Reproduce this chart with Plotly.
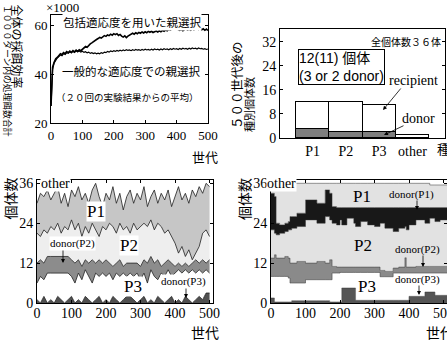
import plotly.graph_objects as go

W, H = 447, 342
def px(x): return x / W
def py(y): return 1 - y / H

SERIF = "Liberation Serif, Times New Roman, serif"
JP = "Noto Sans CJK JP"
SANS = "Liberation Sans, Noto Sans CJK JP, sans-serif"

# ---------------- data: top-left (foraging efficiency, x1000) ----------------
gen_tl = list(range(0, 501, 5))
fit_inclusive = [
    27, 43, 45, 46.5, 47, 47.8, 48.5, 48.2, 49, 48.6,
    49.4, 49, 49.6, 49.1, 49.8, 49.3, 50, 49.5, 50.2, 49.8,
    50.5, 50.9, 51.5, 51.2, 52, 52.6, 53, 53.6, 54, 54.4,
    54.8, 55.3, 55, 55.6, 56, 55.7, 56.3, 56, 56.6, 56.2,
    56.8, 56.4, 56.8, 56.1, 56.5, 55.8, 55.4, 55.9, 55.2, 55.8,
    56.3, 56.8, 57, 56.6, 57.2, 56.8, 57.3, 57, 57.5, 57.1,
    57.6, 57.2, 57.8, 57.4, 57.8, 57.3, 57.7, 57.9, 57.5, 58,
    57.6, 58.2, 57.8, 58.3, 58, 58.6, 58.3, 58.9, 59.2, 58.7,
    59, 58.5, 58.2, 58.6, 58, 58.5, 58.8, 58.3, 58.7, 58.2,
    58.9, 58.4, 58.8, 59.1, 58.5, 58.9, 58.4, 58.8, 58.2, 58.7,
    58.1]
fit_normal = [
    27, 42, 44.8, 46, 46.8, 47.4, 48, 47.7, 48.6, 48.2,
    49, 48.7, 49.3, 48.9, 49.5, 49.1, 49.8, 49.3, 49.7, 49.2,
    49.6, 49.1, 49.4, 48.9, 49.2, 48.7, 49, 48.6, 48.9, 48.5,
    48.8, 48.5, 49, 48.7, 49.2, 49, 49.5, 49.2, 49.7, 49.4,
    49.8, 49.5, 49.9, 49.6, 50, 49.7, 50.1, 49.8, 50.2, 49.9,
    50.1, 49.8, 50.2, 49.9, 50.3, 50, 50.2, 49.9, 50.3, 50,
    50.4, 50.1, 50.3, 50, 50.4, 50.1, 50.5, 50.2, 50.4, 50.1,
    50.5, 50.2, 50.6, 50.3, 50.5, 50.2, 50.6, 50.3, 50.7, 50.4,
    50.6, 50.3, 50.7, 50.4, 50.8, 50.5, 50.7, 50.4, 50.8, 50.5,
    50.9, 50.6, 50.8, 50.5, 50.9, 50.6, 50.7, 50.4, 50.6, 50.3,
    50.5]
tl_yticks = [20, 40, 60]

# ---------------- data: top-right (individuals per species after 500 gen) ----------------
species = ["P1", "P2", "P3", "other"]
donor_cnt = [3, 2, 2, 0]
recipient_cnt = [9, 10, 9, 1]
tr_yticks = [0, 8, 16, 24, 32]

# ---------------- data: bottom-left (normal fitness), cumulative boundaries ----------------
gen_bl = list(range(0, 501, 10))
bl_d3_top = [1, 0, 2, 0, 1, 0, 2, 1, 0, 1,
             2, 0, 1, 0, 2, 1, 0, 1, 2, 0,
             1, 0, 2, 1, 0, 1, 2, 2, 1, 0,
             1, 2, 0, 1, 0, 2, 1, 0, 1, 2,
             0, 1, 0, 2, 1, 0, 1, 2, 1, 3,
             3]
bl_p3_top = [6, 8, 7, 9, 9, 9, 9, 9, 9, 9,
             8, 6, 9, 7, 10, 8, 6, 9, 8, 9,
             8, 9, 7, 9, 8, 9, 8, 9, 8, 9,
             7, 9, 6, 10, 8, 7, 9, 8, 10, 8,
             9, 10, 9, 10, 9, 10, 9, 10, 9, 10,
             9]
bl_d2_top = [12, 13, 12, 14, 14, 14, 14, 14, 14, 14,
             13, 12, 13, 11, 13, 12, 13, 12, 13, 12,
             13, 12, 11, 12, 13, 11, 12, 12, 12, 12,
             11, 13, 12, 14, 12, 13, 11, 12, 13, 12,
             11, 12, 11, 12, 11, 12, 13, 12, 13, 12,
             13]
bl_p2_top = [21, 20, 22, 21, 23, 22, 24, 21, 23, 22,
             25, 22, 24, 20, 23, 21, 24, 22, 20, 23,
             22, 24, 23, 21, 24, 22, 23, 21, 24, 22,
             23, 24, 23, 25, 22, 24, 23, 21, 22, 20,
             18, 15, 17, 14, 16, 13, 15, 17, 21, 22,
             20]
bl_p1_top = [30, 33, 32, 34, 31, 33, 35, 30, 33, 29,
             34, 32, 35, 31, 33, 30, 34, 36, 32, 29,
             33, 31, 35, 30, 33, 28, 32, 34, 30, 33,
             31, 35, 29, 32, 34, 30, 33, 31, 34, 29,
             32, 35, 31, 33, 30, 34, 32, 35, 33, 36,
             35]
b_yticks = [0, 12, 24, 36]
b_xticks = [0, 100, 200, 300, 400, 500]

# ---------------- data: bottom-right (inclusive fitness), cumulative boundaries ----------------
gen_br = [0, 10, 15, 25, 40, 50, 55, 60, 75, 100, 133, 157, 170, 177, 190, 200,
          205, 220, 240, 245, 260, 280, 300, 316, 330, 354, 370, 388, 392, 400,
          420, 446, 460, 475, 490, 510]
br_d3_top = [1.5, 0.3, 0.3, 0.3, 0.3, 0.3, 0.3, 0.7, 0.7, 0.7, 0.7, 0.7, 0.3, 0.3, 0.3, 0.3,
             4.5, 4.5, 4.5, 0.8, 0.8, 0.8, 0.8, 0.8, 0.8, 0.8, 0.8, 0.8, 0.8, 2,
             2, 3.3, 3.3, 2.3, 2.3, 2.3]
br_p3_top = [8, 8, 8, 8, 8, 7.5, 6, 6, 6, 7, 7, 7, 7, 9, 9, 9.2,
             9.2, 9.2, 9.2, 9.2, 9.2, 9.2, 9.2, 7.9, 7.9, 9, 9, 9, 9, 9,
             9, 9, 9, 9, 9, 9]
br_d2_top = [13.5, 14.5, 13.5, 13.5, 14, 13.5, 12, 12, 12.5, 12, 12.5, 12, 13, 11, 10.8, 10.8,
             10.8, 10.8, 10.8, 10.8, 10.8, 10.8, 10.8, 9.8, 9.5, 10.5, 10.8, 13.6, 10.8, 10.8,
             11, 11, 11, 11, 11, 11]
br_p2_top = [22, 21, 20.5, 21, 21.5, 22, 22, 22.5, 23, 25, 24, 26, 25, 24, 23.5, 25,
             23.5, 25.5, 24, 23, 24.5, 23.5, 23, 24, 22.5, 21.5, 22.5, 23, 22, 23.5,
             25, 24, 25.5, 24.5, 25, 25]
br_d1_top = [33, 32, 24, 23.5, 24, 24.5, 26, 26, 27, 31, 30, 34, 33, 29, 28.7, 28.7,
             28.7, 28.7, 28.7, 28.7, 28.7, 28.7, 28.7, 28.7, 28.7, 28.7, 28.7, 28.7, 28.7, 28.7,
             28.7, 28.7, 28.7, 28.7, 28.7, 28.7]
br_p1_top = [34, 35, 36, 36, 36, 36, 36, 36, 36, 36, 36, 36, 36, 36, 36, 36,
             36, 36, 36, 36, 36, 36, 36, 36, 36, 36, 36, 36, 36, 36,
             36, 36, 35.5, 35.5, 35.5, 35.5]

fig = go.Figure()

# top-left lines
fig.add_trace(go.Scatter(x=gen_tl, y=fit_normal, mode="lines",
                         line=dict(color="black", width=1.2), xaxis="x", yaxis="y", showlegend=False))
fig.add_trace(go.Scatter(x=gen_tl, y=fit_inclusive, mode="lines",
                         line=dict(color="black", width=1.6), xaxis="x", yaxis="y", showlegend=False))

# top-right bars
fig.add_trace(go.Bar(x=species, y=donor_cnt, marker=dict(color="#7f7f7f", line=dict(color="black", width=1)),
                     xaxis="x2", yaxis="y2", showlegend=False))
fig.add_trace(go.Bar(x=species, y=recipient_cnt, marker=dict(color="white", line=dict(color="black", width=1)),
                     xaxis="x2", yaxis="y2", showlegend=False))

# bottom-left stacked areas
bl_layers = [(bl_d3_top, "#505050"), (bl_p3_top, "white"), (bl_d2_top, "#8c8c8c"),
             (bl_p2_top, "#eeeeee"), (bl_p1_top, "#c6c6c6")]
for i, (vals, col) in enumerate(bl_layers):
    fig.add_trace(go.Scatter(x=gen_bl, y=vals, mode="lines", fill="tozeroy" if i == 0 else "tonexty",
                             fillcolor=col, line=dict(color="#202020", width=0.8),
                             xaxis="x3", yaxis="y3", showlegend=False))

# bottom-right stacked areas
br_layers = [(br_d3_top, "#555555"), (br_p3_top, "white"), (br_d2_top, "#8a8a8a"),
             (br_p2_top, "#e2e2e2"), (br_d1_top, "#181818"), (br_p1_top, "#e2e2e2")]
for i, (vals, col) in enumerate(br_layers):
    fig.add_trace(go.Scatter(x=gen_br, y=vals, mode="lines", fill="tozeroy" if i == 0 else "tonexty",
                             fillcolor=col, line=dict(color="#333333", width=0.5, shape="hv"),
                             xaxis="x4", yaxis="y4", showlegend=False))

ax_common = dict(showline=True, linecolor="black", linewidth=1, mirror="ticks", ticks="inside",
                 ticklen=3, tickcolor="black", showgrid=False, zeroline=False, automargin=False,
                 ticklabeloverflow="allow")

def tf(size):
    return dict(family=SERIF, size=size, color="black")

fig.update_layout(
    width=W, height=H, margin=dict(l=0, r=0, t=0, b=0, autoexpand=False),
    paper_bgcolor="white", plot_bgcolor="white", barmode="stack", bargap=0,
    xaxis=dict(ax_common, domain=[px(51), px(208)], range=[0, 500], anchor="y",
               tickmode="array", tickvals=b_xticks, ticktext=[str(v) for v in b_xticks], tickfont=tf(13)),
    yaxis=dict(ax_common, domain=[py(123), py(15)], range=[20, 64.5], anchor="x",
               tickmode="array", tickvals=tl_yticks, ticktext=[str(v) for v in tl_yticks],
               tickfont=tf(13)),
    xaxis2=dict(ax_common, domain=[px(280), px(445)], range=[-0.98, 3.98], anchor="y2",
                ticks="", tickfont=tf(14)),
    yaxis2=dict(ax_common, domain=[py(138), py(29)], range=[0, 36.3], anchor="x2",
                tickmode="array", tickvals=tr_yticks, ticktext=[str(v) for v in tr_yticks],
                tickfont=tf(14)),
    xaxis3=dict(ax_common, domain=[px(37), px(213)], range=[0, 510], anchor="y3",
                tickvals=b_xticks, tickfont=tf(14), ticklabelstandoff=-3),
    yaxis3=dict(ax_common, domain=[py(303), py(180)], range=[0, 37], anchor="x3",
                tickvals=b_yticks, tickfont=tf(14)),
    xaxis4=dict(ax_common, domain=[px(271), 1.0], range=[0, 510], anchor="y4",
                tickvals=b_xticks, tickfont=tf(14), ticklabelstandoff=-3),
    yaxis4=dict(ax_common, domain=[py(303), py(180)], range=[0, 37], anchor="x4",
                tickvals=b_yticks, tickfont=tf(14)),
)

def txt(s, x, y, size, family=SERIF, bg=None, angle=0, xanchor="center", yanchor="middle", **kw):
    d = dict(text=s, x=px(x), y=py(y), xref="paper", yref="paper", showarrow=False,
             font=dict(family=family, size=size, color="black"), textangle=angle,
             xanchor=xanchor, yanchor=yanchor, borderpad=0)
    if bg:
        d["bgcolor"] = bg
    d.update(kw)
    return d

def arrow(x0, y0, x1, y1):
    return dict(text="", x=px(x1), y=py(y1), xref="paper", yref="paper", ax=x0 - x1, ay=y0 - y1,
                axref="pixel", ayref="pixel", showarrow=True, arrowhead=2, arrowsize=1,
                arrowwidth=0.8, arrowcolor="black")

ann = [
    # top-left
    txt("×1000", 63, 7, 13),
    txt("包括適応度を用いた親選択", 132, 22, 11.5, JP, bg="white"),
    txt("一般的な適応度での親選択", 131, 71, 11.5, JP),
    txt("（２０回の実験結果からの平均）", 127, 97, 9.5, JP),
    txt("全体の採餌効率", 17.5, 46, 12, JP, angle=90),
    txt("１０００ターン内の処理餌数合計", 8, 71, 8.8, JP, angle=90),
    txt("世代", 205, 156, 13, JP),
    # top-right
    txt("全個体数３６体", 406, 42, 10, JP),
    txt("12(11) 個体<br>(3 or 2 donor)", 341, 67, 14, SANS, bg="white", align="left",
        bordercolor="black", borderwidth=1),
    txt("recipient", 413, 80, 14),
    txt("donor", 418, 118, 14),
    arrow(402, 87, 383, 110),
    arrow(405, 125, 384, 135),
    txt("５００世代後の", 237, 85, 12.5, JP, angle=-90),
    txt("種別個体数", 249, 105, 11, JP, angle=-90),
    txt("種別", 436, 148, 13, JP, xanchor="left"),
    # bottom-left
    txt("個体数", 9.5, 199, 14, JP, angle=-90),
    txt("other", 55, 183, 14, bg="white"),
    txt("P1", 96, 211, 17, bg="white"),
    txt("P2", 129, 245, 17, bg="white"),
    txt("P3", 133, 286, 17, bg="white"),
    txt("donor(P2)", 72, 243, 11, bg="white"),
    txt("donor(P3)", 183, 281, 11, bg="white"),
    arrow(63, 249, 63, 263),
    arrow(186, 287, 186, 298),
    txt("世代", 205, 332, 14, JP),
    # bottom-right
    txt("個体数", 244, 199, 14, JP, angle=-90),
    txt("other", 281, 183, 14, bg="white"),
    txt("P1", 362, 196, 17),
    txt("P2", 363, 245, 17),
    txt("P3", 367, 286, 17),
    txt("donor(P1)", 411, 194, 11),
    txt("donor(P2)", 417, 249, 11),
    txt("donor(P3)", 417, 279, 11),
    arrow(417, 199, 417, 210),
    arrow(423, 254, 423, 267),
    arrow(419, 284, 419, 295),
    txt("世代", 425, 332, 14, JP, xanchor="left"),
]
fig.update_layout(annotations=ann)

fig.write_html("out.html", config={"displayModeBar": False},
               post_script="document.body.style.margin='0';document.body.style.overflow='hidden';")
